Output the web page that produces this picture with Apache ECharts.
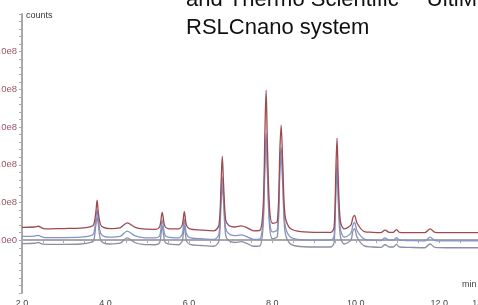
<!DOCTYPE html>
<html>
<head>
<meta charset="utf-8">
<style>
  html, body { margin: 0; padding: 0; background: #fff; }
  #chart { width: 478px; height: 305px; }
</style>
<script src="https://cdn.jsdelivr.net/npm/echarts@6/dist/echarts.min.js"></script>
</head>
<body>
<div id="chart"></div>
<script>
// retention time (min), shared by all three runs
const times = [
  2.00, 2.30, 2.40, 2.45, 2.55, 3.00, 3.40, 3.65, 3.72, 3.77,
  3.80, 3.83, 3.88, 3.95, 4.10, 4.35, 4.52, 4.70, 4.90, 5.20,
  5.30, 5.36, 5.42, 5.50, 5.75, 5.84, 5.89, 5.94, 6.02, 6.30,
  6.60, 6.72, 6.77, 6.80, 6.83, 6.88, 6.95, 7.10, 7.25, 7.40,
  7.55, 7.70, 7.78, 7.82, 7.85, 7.88, 7.93, 8.00, 8.12, 8.18,
  8.21, 8.25, 8.30, 8.40, 8.60, 9.00, 9.40, 9.48, 9.52, 9.55,
  9.58, 9.63, 9.72, 9.88, 9.93, 9.97, 10.03, 10.20, 10.40, 10.60,
  10.70, 10.80, 10.90, 10.97, 11.05, 11.30, 11.65, 11.78, 11.90, 12.20,
  12.60, 13.00
]

// counts, in units of 1e8
const redRun = [
  0.34, 0.35, 0.37, 0.34, 0.30, 0.31, 0.32, 0.36, 0.42, 0.75,
  1.06, 0.72, 0.42, 0.34, 0.31, 0.33, 0.46, 0.35, 0.30, 0.29,
  0.36, 0.74, 0.38, 0.31, 0.30, 0.40, 0.76, 0.40, 0.30, 0.27,
  0.25, 0.40, 1.50, 2.23, 1.50, 0.55, 0.40, 0.35, 0.38, 0.33,
  0.25, 0.26, 0.90, 2.80, 3.98, 2.60, 0.90, 0.45, 0.50, 2.40,
  3.05, 2.00, 0.70, 0.35, 0.24, 0.21, 0.21, 0.35, 1.80, 2.71,
  1.60, 0.50, 0.30, 0.40, 0.60, 0.66, 0.45, 0.23, 0.21, 0.20,
  0.27, 0.21, 0.21, 0.28, 0.21, 0.20, 0.20, 0.30, 0.21, 0.20,
  0.20, 0.20
]
const blueRun = [
  0.10, 0.11, 0.13, 0.10, 0.07, 0.07, 0.08, 0.12, 0.18, 0.55,
  0.80, 0.55, 0.20, 0.11, 0.08, 0.10, 0.24, 0.12, 0.07, 0.06,
  0.12, 0.53, 0.15, 0.08, 0.06, 0.16, 0.55, 0.17, 0.07, 0.04,
  0.02, 0.16, 1.20, 1.68, 1.20, 0.32, 0.18, 0.12, 0.14, 0.09,
  0.02, 0.03, 0.60, 2.10, 2.84, 2.00, 0.60, 0.22, 0.28, 2.00,
  2.47, 1.60, 0.45, 0.12, 0.02, 0.00, 0.00, 0.12, 1.40, 2.05,
  1.20, 0.30, 0.08, 0.18, 0.40, 0.47, 0.25, 0.03, 0.00, -0.01,
  0.06, 0.00, 0.00, 0.07, 0.00, -0.01, -0.02, 0.08, -0.01, -0.02,
  -0.02, -0.02
]
const grayRun = [
  -0.09, -0.08, -0.06, -0.09, -0.11, -0.11, -0.10, -0.06, 0.00, 0.40,
  0.62, 0.40, 0.02, -0.07, -0.10, -0.08, 0.06, -0.06, -0.11, -0.12,
  -0.06, 0.38, -0.03, -0.10, -0.12, -0.02, 0.39, -0.01, -0.11, -0.14,
  -0.16, -0.02, 1.00, 1.46, 1.00, 0.14, -0.01, -0.06, -0.04, -0.09,
  -0.16, -0.15, 0.40, 1.90, 2.66, 1.80, 0.40, 0.04, 0.10, 1.80,
  2.26, 1.40, 0.25, -0.06, -0.16, -0.18, -0.18, -0.06, 1.20, 1.86,
  1.00, 0.10, -0.10, 0.00, 0.24, 0.31, 0.08, -0.15, -0.18, -0.19,
  -0.12, -0.18, -0.18, -0.11, -0.18, -0.19, -0.20, -0.10, -0.19, -0.20,
  -0.20, -0.20
]

const chart = echarts.init(document.getElementById('chart'))

const pairs = vals => times.map((t, i) => [t, vals[i]])
const isWhole = v => Math.abs(v - Math.round(v)) < 1e-6

const trace = (name, vals, color) => ({
  name,
  type: 'line',
  data: pairs(vals),
  showSymbol: false,
  smooth: 0.3,
  lineStyle: { color, width: 1.3 },
  animation: false
})

chart.setOption({
  backgroundColor: '#fff',
  // labels are allowed to run off the canvas edge, like the cropped original
  grid: { left: 22, right: -3, top: 14, bottom: 12, containLabel: false, outerBoundsMode: 'none' },
  xAxis: {
    type: 'value',
    min: 2,
    max: 13,
    interval: 0.5,
    axisLine: { lineStyle: { color: '#a8a8a8', width: 2 } },
    axisTick: { length: 3, lineStyle: { color: '#aaa' } },
    splitLine: { show: false },
    axisLabel: {
      showMaxLabel: true,
      margin: 6,
      fontSize: 9,
      color: '#444',
      fontFamily: 'Liberation Sans',
      formatter: v => (isWhole(v) && (Math.round(v) % 2 === 0 || Math.round(v) === 13)) ? v.toFixed(1) : ''
    }
  },
  yAxis: {
    type: 'value',
    min: -1.4,
    max: 6,
    interval: 0.2,
    axisLine: { show: true, lineStyle: { color: '#a8a8a8', width: 2 } },
    axisTick: { show: true, length: 3, lineStyle: { color: '#aaa' } },
    splitLine: { show: false },
    axisLabel: {
      margin: 5,
      fontSize: 9.5,
      color: '#9a5565',
      fontFamily: 'Liberation Sans',
      formatter: v => {
        if (!isWhole(v) || v < -1e-6 || v > 5.5) return ''
        const n = Math.round(v)
        return n === 0 ? '0.0e0' : n.toFixed(1) + 'e8'
      }
    }
  },
  series: [
    trace('run 3', grayRun, '#8d8fa3'),
    trace('run 2', blueRun, '#8494c8'),
    trace('run 1', redRun, '#9e4a50')
  ],
  graphic: [
    {
      type: 'text', left: 186, top: -11,
      style: { text: 'and Thermo Scientific™ UltiMate™ 3000', fontSize: 22, fontFamily: 'Liberation Sans', fill: '#111' }
    },
    {
      type: 'text', left: 186, top: 17,
      style: { text: 'RSLCnano system', fontSize: 22, fontFamily: 'Liberation Sans', fill: '#111' }
    },
    {
      type: 'text', left: 26, top: 11,
      style: { text: 'counts', fontSize: 9, fontFamily: 'Liberation Sans', fill: '#333' }
    },
    {
      type: 'text', left: 462, top: 280,
      style: { text: 'min', fontSize: 9, fontFamily: 'Liberation Sans', fill: '#444' }
    }
  ]
})
</script>
</body>
</html>
